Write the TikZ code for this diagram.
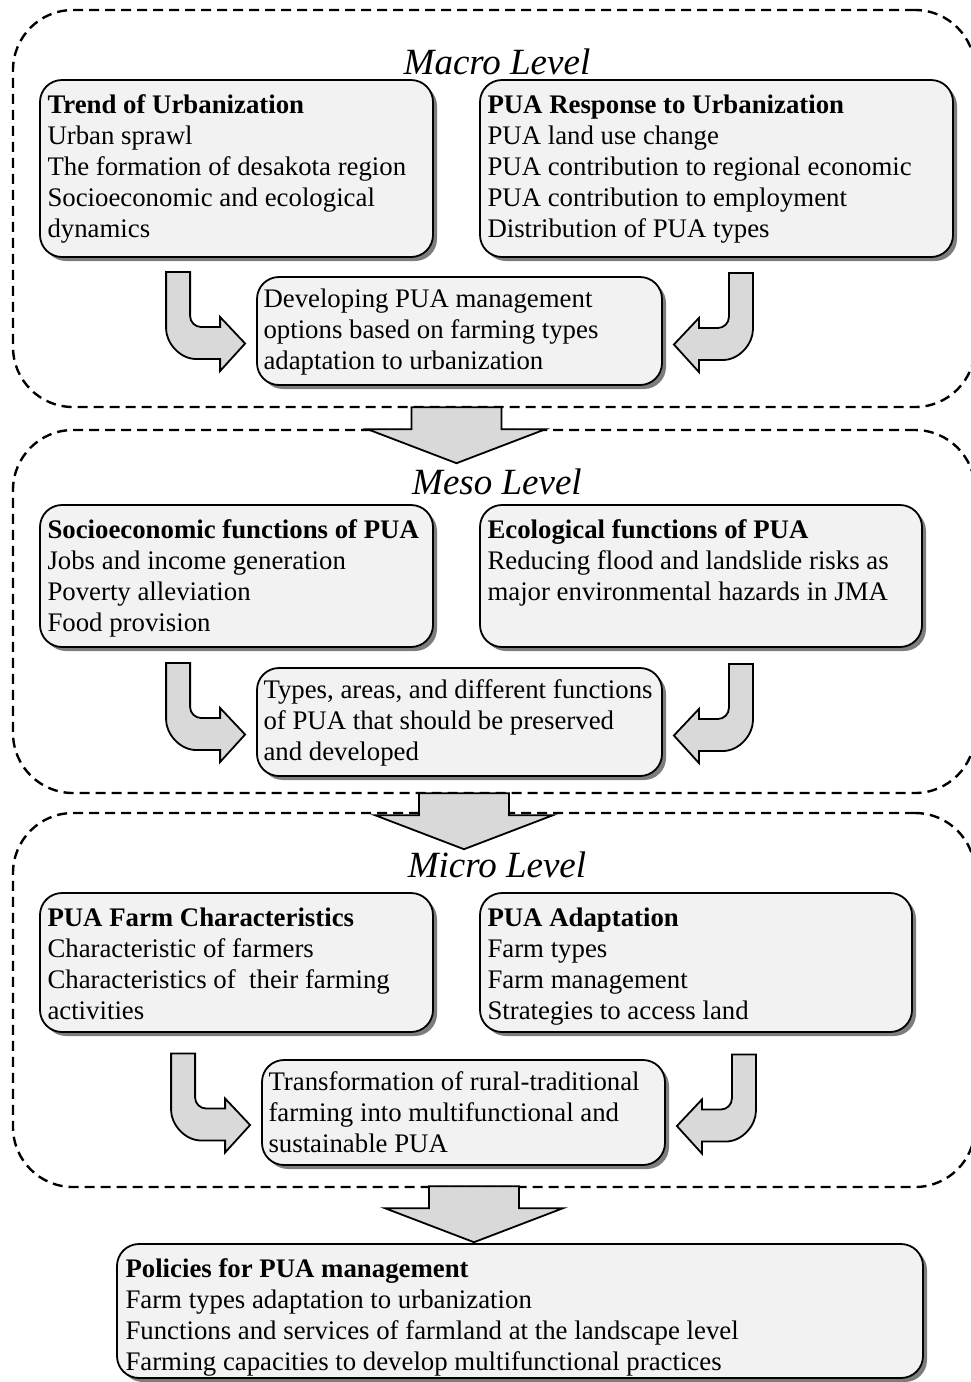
\documentclass[tikz,border=0pt]{standalone}
\usepackage{fontspec}
\setmainfont{Liberation Serif}
\usetikzlibrary{calc}
\usetikzlibrary{fit}
\usetikzlibrary{shadows}

\definecolor{boxgray}{RGB}{242,242,242}
\definecolor{arrowgray}{RGB}{217,217,217}
\definecolor{shadowgray}{RGB}{125,125,125}

% bent block arrow, drawn from the top left corner of its shaft
\newcommand{\bentarrow}[1]{%
  \begin{scope}[#1]
    \draw[bentshape] (0,0) -- (24,0) -- (24,44) .. controls (24,50) and (29,55) .. (35,55)
      -- (54,55) -- (54,45) -- (79,71.5) -- (54,99) -- (54,87) -- (30,87)
      .. controls (13.4,87) and (0,70.4) .. (0,57) -- cycle;
  \end{scope}}

% wide block arrow between two levels
\newcommand{\blockdown}[1]{%
  \begin{scope}[#1]
    \draw[blockshape] (-45,0) -- (45,0) -- (45,22) -- (89,22) -- (0,56) -- (-89,22) -- (-45,22) -- cycle;
  \end{scope}}

\begin{document}
\begin{tikzpicture}[x=0.5pt,y=-0.5pt,
    level/.style={draw,line width=1.2pt,dash pattern=on 5pt off 3pt,rounded corners=30pt,inner sep=0pt},
    levellabel/.style={font=\fontsize{18.5}{22}\selectfont\itshape,inner sep=0pt},
    panel/.style={draw,line width=0.9pt,fill=boxgray,rounded corners=11pt,inner sep=0pt,
      drop shadow={shadow xshift=2pt,shadow yshift=-2pt,fill=shadowgray,opacity=1}},
    txt/.style={font=\fontsize{13.4}{15.5}\selectfont,align=left,inner sep=0pt,anchor=north west},
    bentshape/.style={draw,line width=0.9pt,fill=arrowgray,line join=miter},
    blockshape/.style={draw,line width=0.9pt,fill=arrowgray,line join=miter}]

        \useasboundingbox (0,0) rectangle (970,1382);

        % draw the three dashed levels and their names
        \foreach \lvl/\ya/\yb/\ylab/\name in {macro/10/407/62/Macro,meso/430/793/482/Meso,micro/813/1187/865/Micro} {
                \node[level,fit={(13,\ya) (975,\yb)}] (\lvl) {};
                \node[levellabel] (\lvl label) at (497,\ylab) {\name\ Level};
        }

        % macro level
        \node[panel,fit={(40,80) (433,257)}] (trendbox) {};
        \node[txt] (trend) at ($(trendbox.north west)+(8,15)$)
                {\textbf{Trend of Urbanization}\\Urban sprawl\\The formation of desakota region\\Socioeconomic and ecological\\dynamics};
        \node[panel,fit={(480,80) (953,257)}] (responsebox) {};
        \node[txt] (response) at ($(responsebox.north west)+(8,15)$)
                {\textbf{PUA Response to Urbanization}\\PUA land use change\\PUA contribution to regional economic\\PUA contribution to employment\\Distribution of PUA types};
        \node[panel,fit={(257,277) (662,385)}] (developingbox) {};
        \node[txt] (developing) at ($(developingbox.north west)+(7,12)$)
                {Developing PUA management\\options based on farming types\\adaptation to urbanization};

        % meso level
        \node[panel,fit={(40,505) (433,647)}] (socialbox) {};
        \node[txt] (social) at ($(socialbox.north west)+(8,15)$)
                {\textbf{Socioeconomic functions of PUA}\\Jobs and income generation\\Poverty alleviation\\Food provision};
        \node[panel,fit={(480,505) (922,647)}] (ecologybox) {};
        \node[txt] (ecology) at ($(ecologybox.north west)+(8,15)$)
                {\textbf{Ecological functions of PUA}\\Reducing flood and landslide risks as\\major environmental hazards in JMA};
        \node[panel,fit={(257,668) (662,776)}] (typesbox) {};
        \node[txt] (types) at ($(typesbox.north west)+(7,12)$)
                {Types, areas, and different functions\\of PUA that should be preserved\\and developed};

        % micro level
        \node[panel,fit={(40,893) (433,1032)}] (farmbox) {};
        \node[txt] (farm) at ($(farmbox.north west)+(8,15)$)
                {\textbf{PUA Farm Characteristics}\\Characteristic of farmers\\Characteristics of \ their farming\\activities};
        \node[panel,fit={(480,893) (912,1032)}] (adaptbox) {};
        \node[txt] (adapt) at ($(adaptbox.north west)+(8,15)$)
                {\textbf{PUA Adaptation}\\Farm types\\Farm management\\Strategies to access land};
        \node[panel,fit={(262,1060) (665,1165)}] (transformbox) {};
        \node[txt] (transform) at ($(transformbox.north west)+(7,12)$)
                {Transformation of rural-traditional\\farming into multifunctional and\\sustainable PUA};

        % policies
        \node[panel,fit={(117,1244) (923,1378)}] (policybox) {};
        \node[txt] (policy) at ($(policybox.north west)+(9,15)$)
                {\textbf{Policies for PUA management}\\Farm types adaptation to urbanization\\Functions and services of farmland at the landscape level\\Farming capacities to develop multifunctional practices};

        % draw the bent arrows into the middle boxes
        \foreach \midbox in {developingbox,typesbox,transformbox} {
                \bentarrow{shift={($(\midbox.west)+(-90,-59)$)}}
                \bentarrow{shift={($(\midbox.east)+(90,-58)$)},xscale=-1}
        }

        % draw the arrows from level to level
        \blockdown{shift={($(developingbox.south |- macro.south)+(-3,-1)$)}}
        \blockdown{shift={($(typesbox.south |- meso.south)+(4.5,-1)$)}}
        \blockdown{shift={($(transformbox.south |- micro.south)+(10.5,-2)$)}}

\end{tikzpicture}
\end{document}
